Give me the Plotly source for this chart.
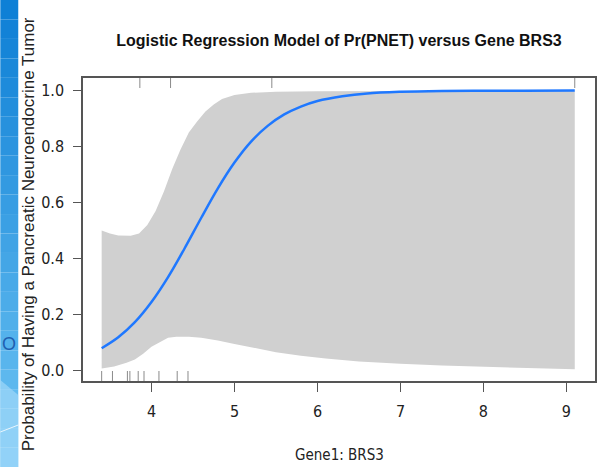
import plotly.graph_objects as go

# ---- data ----
fit_x = [3.4, 3.6, 3.8, 4.0, 4.2, 4.4, 4.6, 4.8, 5.0, 5.2, 5.4, 5.6, 5.8, 6.0,
         6.3, 6.6, 7.0, 7.5, 8.0, 8.5, 9.1]
fit_p = [0.080, 0.119, 0.173, 0.245, 0.334, 0.437, 0.546, 0.651, 0.743, 0.818,
         0.874, 0.915, 0.943, 0.963, 0.980, 0.990, 0.9957, 0.9986, 0.9995,
         0.9998, 0.99996]

upper_x = [3.40, 3.50, 3.60, 3.75, 3.85, 3.95, 4.05, 4.15, 4.25, 4.35, 4.45,
           4.55, 4.65, 4.75, 4.85, 5.0, 5.2, 5.5, 6.0, 7.0, 9.1]
upper_p = [0.50, 0.49, 0.483, 0.482, 0.49, 0.52, 0.57, 0.64, 0.72, 0.79, 0.85,
           0.89, 0.925, 0.95, 0.97, 0.984, 0.992, 0.996, 0.998, 0.999, 1.0]

lower_x = [3.40, 3.55, 3.70, 3.80, 3.90, 4.00, 4.10, 4.20, 4.30, 4.45, 4.60,
           4.80, 5.00, 5.25, 5.50, 5.80, 6.10, 6.50, 7.00, 7.50, 8.00, 8.50, 9.10]
lower_p = [0.008, 0.015, 0.028, 0.04, 0.06, 0.085, 0.10, 0.117, 0.121, 0.121,
           0.117, 0.108, 0.095, 0.08, 0.066, 0.053, 0.043, 0.033, 0.025, 0.018,
           0.013, 0.009, 0.005]

rug_neg = [3.40, 3.53, 3.71, 3.74, 3.84, 3.91, 4.09, 4.31, 4.44]   # PNET = 0
rug_pos = [3.86, 4.23, 5.45, 9.10]                                  # PNET = 1

x_ticks = [4, 5, 6, 7, 8, 9]
y_ticks = [0.0, 0.2, 0.4, 0.6, 0.8, 1.0]
y_tick_labels = ["0.0", "0.2", "0.4", "0.6", "0.8", "1.0"]

title_text = "Logistic Regression Model of Pr(PNET) versus Gene BRS3"
x_title = "Gene1: BRS3"
y_title = "Probability of Having a Pancreatic Neuroendocrine Tumor"

# ---- layout constants ----
W, H = 600, 467
L, R, T, B = 83, 3, 78, 86
XR = [3.175, 9.344]
YR = [-0.037, 1.045]
FONT = "DejaVu Sans Condensed, Liberation Sans, Arial, sans-serif"
TFONT = "Liberation Sans, Arial, sans-serif"
rug_len = (YR[1] - YR[0]) * 10 / (H - T - B)

fig = go.Figure()

# confidence band
fig.add_trace(go.Scatter(
    x=upper_x + lower_x[::-1], y=upper_p + lower_p[::-1],
    fill="toself", fillcolor="#d0d0d0", line=dict(width=0),
    mode="lines", hoverinfo="skip", showlegend=False))

# fitted curve
fig.add_trace(go.Scatter(
    x=fit_x, y=fit_p, mode="lines", line=dict(color="#1f78ff", width=2.5),
    line_shape="spline", showlegend=False))

# rugs
def rug(xs, y0, y1):
    rx, ry = [], []
    for v in xs:
        rx += [v, v, None]
        ry += [y0, y1, None]
    return go.Scatter(x=rx, y=ry, mode="lines",
                      line=dict(color="#8a8a8a", width=1),
                      hoverinfo="skip", showlegend=False)

fig.add_trace(rug(rug_neg, YR[0], YR[0] + rug_len))
fig.add_trace(rug(rug_pos, YR[1] - rug_len, YR[1]))

def px(xp):
    return (xp - L) / (W - L - R)
def py(yp):
    return (H - B - yp) / (H - T - B)

# blue slide strip on the left (gradient approximation)
shapes = []
n = 24
top_c = (14, 128, 214)
bot_c = (110, 196, 244)
for i in range(n):
    f = i / (n - 1)
    c = tuple(int(top_c[k] + (bot_c[k] - top_c[k]) * f) for k in range(3))
    shapes.append(dict(type="rect", xref="paper", yref="paper",
                       x0=px(0), x1=px(18),
                       y0=py((i + 1) * H / n), y1=py(i * H / n),
                       fillcolor="rgb(%d,%d,%d)" % c, line=dict(width=0),
                       layer="below"))
shapes.append(dict(type="path", xref="paper", yref="paper",
                   path="M %f,%f L %f,%f L %f,%f L %f,%f Z" % (
                       px(0), py(380), px(18), py(395), px(18), py(467), px(0), py(467)),
                   fillcolor="rgba(170,220,250,0.6)", line=dict(width=0), layer="below"))
shapes.append(dict(type="line", xref="paper", yref="paper",
                   x0=px(0), y0=py(432), x1=px(18), y1=py(425),
                   line=dict(color="rgba(255,255,255,0.8)", width=1)))

annotations = [
    dict(text=y_title, xref="paper", yref="paper", x=px(28), y=py(234),
         textangle=-90, showarrow=False, xanchor="center", yanchor="middle",
         font=dict(family=TFONT, size=17, color="#222222")),
    dict(text=x_title, xref="paper", yref="paper", x=px(340), y=py(455),
         showarrow=False, xanchor="center", yanchor="middle",
         font=dict(family=FONT, size=15, color="#222222")),
    dict(text="O", xref="paper", yref="paper", x=px(9), y=py(344),
         showarrow=False, xanchor="center", yanchor="middle",
         font=dict(family="Liberation Sans, Arial", size=18, color="#1f5fb0")),
]

fig.update_layout(
    width=W, height=H,
    margin=dict(l=L, r=R, t=T, b=B, pad=0),
    paper_bgcolor="white", plot_bgcolor="white",
    title=dict(text="<b>" + title_text + "</b>", x=339 / W, y=1 - 40 / H,
               xanchor="center", yanchor="middle", xref="container",
               font=dict(family=TFONT, size=16, color="#111111")),
    shapes=shapes, annotations=annotations,
    showlegend=False,
)
fig.update_xaxes(range=XR, tickvals=x_ticks, ticks="outside", ticklen=9,
                 tickcolor="#555555", showgrid=False, zeroline=False,
                 showline=True, linecolor="#555555", linewidth=1.5, mirror=True,
                 ticklabelstandoff=6,
                 tickfont=dict(family=FONT, size=16, color="#222222"))
fig.update_yaxes(range=YR, tickvals=y_ticks, ticktext=y_tick_labels,
                 ticks="outside", ticklen=8, tickcolor="#555555",
                 showgrid=False, zeroline=False, showline=True,
                 linecolor="#555555", linewidth=1.5, mirror=True,
                 ticklabelstandoff=6,
                 tickfont=dict(family=FONT, size=16, color="#222222"))

fig.write_html("out.html")
